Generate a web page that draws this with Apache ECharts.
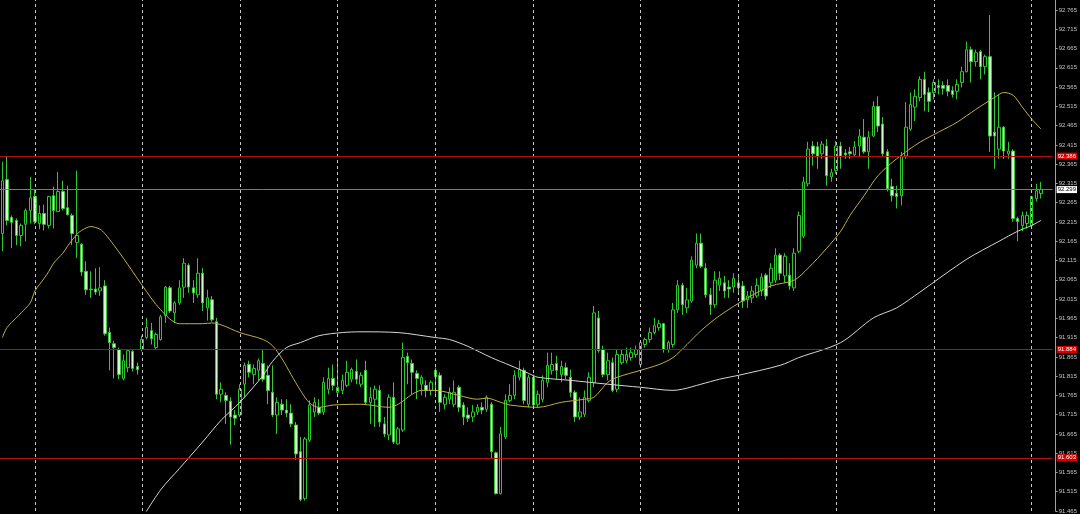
<!DOCTYPE html>
<html>
<head>
<meta charset="utf-8">
<script src="https://cdn.jsdelivr.net/npm/echarts@6/dist/echarts.min.js"></script>
<style>html,body{margin:0;padding:0;background:#000;}#c{width:1080px;height:514px;}</style>
</head>
<body>
<div id="c"></div>
<script>
// ---- data (prices) ----
const openP = [92.185,92.325,92.227,92.219,92.180,92.209,92.245,92.281,92.211,92.237,
92.206,92.283,92.242,92.294,92.252,92.232,92.162,92.157,92.087,92.041,
92.041,92.036,92.049,91.928,91.899,91.884,91.809,91.837,91.879,91.840,
91.884,91.915,91.933,91.889,91.910,91.972,92.044,91.979,92.005,92.046,
92.103,92.044,92.026,92.082,91.992,92.013,91.956,91.768,91.765,91.750,
91.714,91.714,91.794,91.845,91.819,91.830,91.848,91.817,91.773,91.714,
91.742,91.727,91.719,91.688,91.619,91.497,91.649,91.722,91.734,91.722,
91.781,91.809,91.773,91.778,91.791,91.807,91.827,91.794,91.830,91.747,
91.755,91.778,91.691,91.662,91.760,91.639,91.675,91.866,91.848,91.822,
91.794,91.791,91.778,91.830,91.817,91.742,91.755,91.742,91.786,91.740,
91.714,91.709,91.722,91.734,91.729,91.742,91.616,91.510,91.657,91.752,
91.765,91.812,91.830,91.742,91.812,91.742,91.755,91.799,91.830,91.848,
91.819,91.837,91.812,91.773,91.709,91.716,91.752,91.799,91.966,91.884,
91.819,91.850,91.781,91.850,91.855,91.863,91.871,91.845,91.897,91.910,
91.928,91.941,91.951,91.884,91.897,91.987,92.051,91.992,92.010,92.103,
92.160,92.095,92.026,92.000,92.051,92.057,92.046,92.046,92.057,92.049,
92.013,92.018,92.023,92.036,92.077,92.057,92.064,92.129,92.075,92.077,
92.044,92.139,92.178,92.314,92.412,92.410,92.392,92.412,92.332,92.348,
92.412,92.394,92.397,92.389,92.412,92.435,92.397,92.438,92.515,92.469,
92.397,92.307,92.289,92.283,92.386,92.456,92.513,92.538,92.585,92.551,
92.551,92.569,92.569,92.569,92.556,92.554,92.577,92.605,92.662,92.631,
92.657,92.618,92.644,92.448,92.404,92.461,92.392,92.399,92.224,92.206,
92.211,92.206,92.276,92.289];
const closeP = [92.322,92.219,92.214,92.180,92.206,92.245,92.278,92.216,92.237,92.209,
92.281,92.245,92.294,92.250,92.234,92.185,92.180,92.085,92.039,92.039,
92.033,92.044,91.925,91.902,91.889,91.819,91.855,91.881,91.835,91.832,
91.910,91.941,91.912,91.923,91.969,92.046,91.984,92.005,92.044,92.108,
92.046,92.031,92.082,92.005,92.018,91.961,91.768,91.781,91.752,91.709,
91.706,91.781,91.843,91.825,91.835,91.855,91.807,91.778,91.714,91.747,
91.727,91.719,91.691,91.613,91.495,91.652,91.740,91.747,91.719,91.799,
91.809,91.791,91.786,91.804,91.825,91.832,91.807,91.817,91.747,91.760,
91.781,91.696,91.665,91.760,91.644,91.678,91.863,91.850,91.825,91.809,
91.812,91.778,91.799,91.814,91.747,91.760,91.773,91.773,91.734,91.709,
91.706,91.722,91.734,91.727,91.760,91.619,91.510,91.665,91.752,91.765,
91.817,91.832,91.752,91.812,91.740,91.768,91.804,91.843,91.845,91.830,
91.840,91.817,91.773,91.709,91.722,91.760,91.812,91.979,91.881,91.819,
91.855,91.778,91.871,91.871,91.871,91.876,91.884,91.902,91.910,91.928,
91.946,91.951,91.884,91.902,91.987,92.051,92.000,92.013,92.116,92.160,
92.100,92.026,92.000,92.064,92.069,92.036,92.041,92.069,92.044,92.010,
92.023,92.036,92.051,92.072,92.023,92.095,92.129,92.082,92.126,92.049,
92.134,92.232,92.319,92.404,92.392,92.386,92.417,92.335,92.343,92.412,
92.386,92.389,92.392,92.410,92.438,92.397,92.435,92.515,92.464,92.392,
92.301,92.283,92.281,92.386,92.461,92.520,92.541,92.585,92.546,92.528,
92.577,92.564,92.562,92.554,92.546,92.572,92.605,92.662,92.631,92.654,
92.618,92.644,92.438,92.438,92.461,92.399,92.399,92.224,92.216,92.232,
92.232,92.281,92.296,92.299];
const highP = [92.371,92.384,92.232,92.224,92.211,92.250,92.332,92.301,92.258,92.260,
92.283,92.307,92.345,92.322,92.309,92.237,92.348,92.160,92.113,92.087,
92.095,92.098,92.064,91.941,91.907,91.889,91.871,91.884,91.884,91.850,
91.920,91.966,91.953,91.928,91.974,92.049,92.049,92.010,92.064,92.121,
92.108,92.064,92.121,92.095,92.039,92.023,91.966,91.799,91.773,91.760,
91.727,91.794,91.850,91.855,91.845,91.861,91.884,91.843,91.843,91.760,
91.755,91.755,91.742,91.696,91.657,91.657,91.752,91.760,91.755,91.812,
91.837,91.845,91.855,91.819,91.855,91.837,91.858,91.825,91.855,91.786,
91.791,91.791,91.709,91.768,91.799,91.683,91.902,91.876,91.858,91.830,
91.817,91.804,91.804,91.837,91.825,91.768,91.786,91.804,91.791,91.747,
91.734,91.740,91.742,91.747,91.765,91.747,91.619,91.683,91.768,91.794,
91.830,91.855,91.837,91.819,91.819,91.778,91.817,91.876,91.876,91.868,
91.855,91.850,91.832,91.778,91.760,91.778,91.825,91.997,91.984,91.894,
91.876,91.863,91.884,91.884,91.889,91.889,91.894,91.907,91.915,91.941,
91.966,91.961,91.953,91.907,92.005,92.064,92.057,92.044,92.126,92.185,
92.185,92.108,92.044,92.087,92.087,92.075,92.064,92.082,92.075,92.062,
92.036,92.049,92.069,92.082,92.082,92.108,92.147,92.134,92.134,92.108,
92.147,92.242,92.332,92.423,92.425,92.423,92.425,92.430,92.353,92.425,
92.423,92.404,92.410,92.425,92.456,92.482,92.451,92.528,92.541,92.487,
92.404,92.327,92.309,92.397,92.526,92.551,92.559,92.593,92.605,92.564,
92.585,92.585,92.580,92.585,92.567,92.585,92.618,92.683,92.670,92.662,
92.662,92.649,92.752,92.551,92.546,92.464,92.423,92.404,92.229,92.242,
92.242,92.283,92.314,92.319];
const lowP = [92.139,92.206,92.147,92.155,92.152,92.165,92.211,92.209,92.196,92.193,
92.198,92.198,92.242,92.245,92.232,92.155,92.121,92.075,92.026,92.018,
92.026,92.023,91.920,91.830,91.809,91.807,91.804,91.825,91.827,91.819,
91.879,91.910,91.897,91.884,91.907,91.953,91.979,91.953,92.000,92.018,
92.031,92.005,92.018,91.984,91.959,91.956,91.755,91.747,91.691,91.637,
91.688,91.709,91.760,91.812,91.794,91.804,91.801,91.742,91.709,91.665,
91.714,91.709,91.683,91.598,91.490,91.492,91.644,91.709,91.714,91.714,
91.768,91.778,91.768,91.768,91.786,91.799,91.794,91.786,91.742,91.691,
91.683,91.683,91.657,91.649,91.639,91.637,91.670,91.794,91.768,91.755,
91.765,91.760,91.765,91.768,91.722,91.729,91.742,91.734,91.722,91.688,
91.696,91.696,91.714,91.716,91.722,91.600,91.508,91.508,91.652,91.747,
91.755,91.804,91.742,91.734,91.734,91.734,91.747,91.786,91.819,91.807,
91.799,91.807,91.760,91.696,91.701,91.709,91.747,91.786,91.876,91.812,
91.804,91.773,91.773,91.845,91.848,91.855,91.863,91.837,91.889,91.902,
91.923,91.933,91.876,91.876,91.889,91.979,91.974,91.979,92.005,92.095,
92.095,92.018,91.974,91.992,92.036,92.018,92.018,92.031,92.031,91.992,
91.992,92.005,92.018,92.023,92.013,92.044,92.057,92.064,92.057,92.039,
92.036,92.134,92.173,92.307,92.361,92.353,92.379,92.309,92.319,92.340,
92.353,92.379,92.379,92.384,92.386,92.392,92.353,92.435,92.448,92.386,
92.294,92.268,92.250,92.258,92.379,92.451,92.477,92.528,92.502,92.500,
92.533,92.546,92.546,92.541,92.538,92.533,92.564,92.603,92.577,92.618,
92.585,92.598,92.397,92.353,92.379,92.379,92.379,92.216,92.165,92.191,
92.198,92.198,92.268,92.276];

// moving averages read at sample bars: [bar index, price]
const maYellow = [[0,91.915],[1,91.941],[3,91.966],[4,91.979],[6,92.005],[7,92.036],[9,92.069],[10,92.087],[11,92.108],[13,92.134],[14,92.152],[16,92.183],[17,92.193],[19,92.203],[21,92.196],[22,92.185],[24,92.154],[26,92.121],[30,92.051],[34,91.987],[38,91.951],[43,91.951],[45,91.953],[47,91.948],[51,91.928],[56,91.910],[58,91.894],[60,91.861],[62,91.819],[64,91.778],[66,91.745],[68,91.734],[71,91.740],[77,91.742],[83,91.734],[85,91.742],[88,91.768],[90,91.778],[93,91.778],[98,91.765],[102,91.755],[104,91.758],[107,91.747],[109,91.740],[115,91.734],[120,91.747],[125,91.755],[127,91.760],[130,91.799],[132,91.812],[137,91.830],[141,91.845],[144,91.863],[147,91.897],[150,91.933],[154,91.972],[160,92.018],[165,92.049],[170,92.064],[173,92.095],[177,92.147],[180,92.191],[182,92.232],[185,92.283],[188,92.335],[192,92.379],[197,92.422],[201,92.448],[205,92.474],[209,92.507],[213,92.538],[215,92.551],[217,92.544],[219,92.513],[221,92.482],[223,92.456]];
const maWhite = [[30,91.446],[34,91.520],[38,91.575],[43,91.644],[47,91.701],[51,91.747],[56,91.817],[58,91.853],[61,91.889],[64,91.902],[68,91.920],[73,91.928],[77,91.930],[85,91.928],[93,91.915],[96,91.910],[100,91.892],[105,91.863],[109,91.843],[113,91.822],[115,91.812],[122,91.804],[130,91.794],[137,91.786],[144,91.778],[146,91.781],[150,91.794],[154,91.807],[158,91.817],[167,91.843],[171,91.863],[180,91.902],[187,91.966],[192,91.992],[197,92.033],[207,92.118],[214,92.165],[218,92.191],[221,92.206],[223,92.219]];

const redLevels = [92.386, 91.884, 91.603];
const bidLevel = 92.299;
const gridBars = [7, 30, 51, 72, 93, 114, 137, 158, 179, 200, 221];
const yMin = 91.465, yMax = 92.791, yStep = 0.05;
const categories = openP.map((_, i) => 'b' + i).concat(['p1', 'p2']);

const candles = openP.map((o, i) => [o, closeP[i], lowP[i], highP[i]]);
const barPx = 4.68;

const chart = echarts.init(document.getElementById('c'), null, {renderer: 'canvas'});
chart.setOption({
  backgroundColor: '#000000',
  animation: false,
  grid: {left: -1.6, top: 0, height: 514, width: barPx * categories.length},
  xAxis: {
    type: 'category', data: categories, boundaryGap: true,
    axisLine: {show: false}, axisTick: {show: false}, axisLabel: {show: false}, splitLine: {show: false}
  },
  yAxis: {
    type: 'value', position: 'right', offset: 3,
    min: yMin, max: yMax, interval: yStep, scale: true,
    axisLine: {show: true, lineStyle: {color: '#a0a0a0', width: 1}},
    axisTick: {show: true, length: 2, lineStyle: {color: '#a0a0a0'}},
    axisLabel: {show: true, margin: 3, fontSize: 6, fontFamily: 'Liberation Sans', color: '#c4c4c4',
      showMaxLabel: false, formatter: v => v.toFixed(3)},
    splitLine: {show: false}
  },
  series: [
    {
      type: 'line', data: [], z: 1, silent: true,
      markLine: {
        silent: true, animation: false, symbol: ['none', 'none'],
        label: {show: false},
        lineStyle: {color: '#c8c8c8', type: [3, 3], width: 1},
        data: gridBars.map(b => ({xAxis: b}))
      }
    },
    {
      type: 'line', data: [], z: 2, silent: true,
      markLine: {
        silent: true, animation: false, symbol: ['none', 'none'], precision: 3,
        data: redLevels.map(v => ({
          yAxis: v,
          lineStyle: {color: '#b01010', type: 'solid', width: 1},
          label: {show: true, position: 'end', distance: 4, formatter: p => Number(p.value).toFixed(3),
            fontSize: 6, fontFamily: 'Liberation Sans', color: '#ffffff', backgroundColor: '#d40000', padding: [1, 1, 0, 1]}
        })).concat([{
          yAxis: bidLevel,
          lineStyle: {color: '#7a7a7a', type: 'solid', width: 1},
          label: {show: true, position: 'end', distance: 4, formatter: p => Number(p.value).toFixed(3),
            fontSize: 6, fontFamily: 'Liberation Sans', color: '#000000', backgroundColor: '#ffffff', padding: [1, 1, 0, 1]}
        }])
      }
    },
    {
      type: 'candlestick', data: candles, z: 3, barWidth: 3,
      itemStyle: {color: '#000000', color0: '#d2f9cc', borderColor: '#2cc72c', borderColor0: '#3cc43c', borderWidth: 1}
    },
    {
      type: 'line', data: maYellow, z: 4, showSymbol: false, smooth: 0.3, silent: true,
      lineStyle: {color: '#c0ae48', width: 1}
    },
    {
      type: 'line', data: maWhite, z: 4, showSymbol: false, smooth: 0.3, silent: true, clip: true,
      lineStyle: {color: '#d6d6d6', width: 1}
    }
  ]
});
</script>
</body>
</html>
